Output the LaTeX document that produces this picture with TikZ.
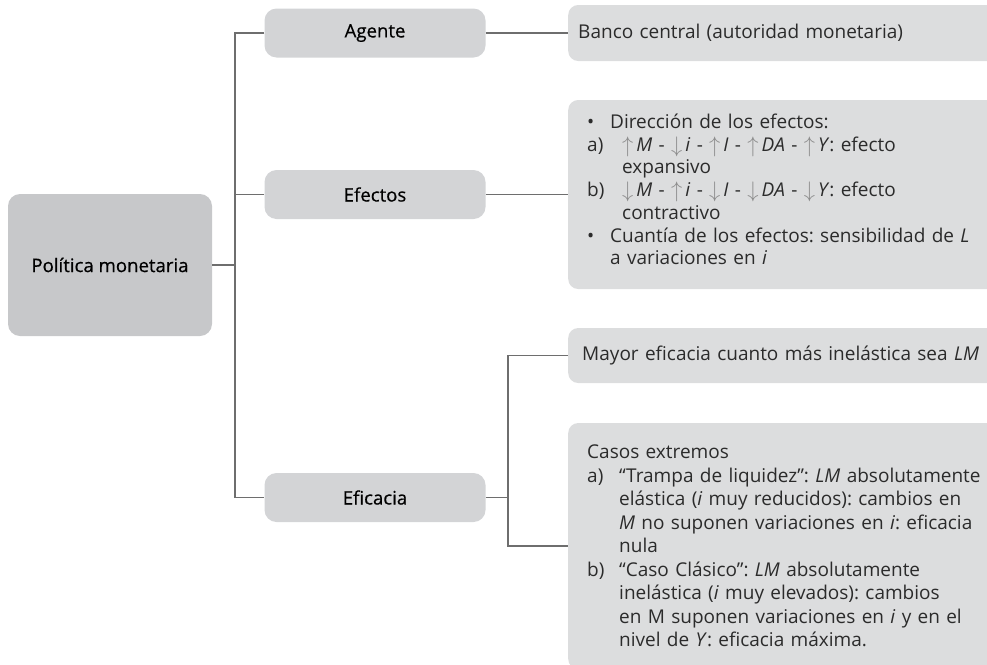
\documentclass[tikz,border=0pt]{standalone}
\usepackage{fontspec}
\setmainfont{Open Sans}
\newfontfamily\labelfont[FakeBold=0.5]{Open Sans}
\definecolor{rootfill}{HTML}{C7C8CA}
\definecolor{midfill}{HTML}{D3D4D6}
\definecolor{leaffill}{HTML}{DCDDDE}
\definecolor{linegray}{HTML}{6E6E6E}
\definecolor{leaftext}{HTML}{2B2B2B}
\definecolor{arrowgray}{HTML}{8C8C8C}

% arrows used in the chains of effects
\newcommand{\ArUp}{{\color{arrowgray}\raisebox{-1pt}[12pt][2pt]{\scalebox{1.3}{$\uparrow$}}}\hspace{3pt}}
\newcommand{\ArDn}{{\color{arrowgray}\raisebox{-1pt}[12pt][2pt]{\scalebox{1.3}{$\downarrow$}}}\hspace{3pt}}
% list labels with hanging text
\newcommand{\BulletLbl}{\makebox[23pt][l]{•}}
\newcommand{\LetterLbl}[1]{\makebox[35pt][l]{#1}}
\newcommand{\CaseLbl}[1]{\makebox[32pt][l]{#1}}

\begin{document}
\frenchspacing
\begin{tikzpicture}[x=1pt,y=-1pt,
  txt/.style={font=\fontsize{19}{22.7}\selectfont\frenchspacing},
  lbl/.style={font=\fontsize{18.6}{22}\selectfont\labelfont},
  rootbox/.style={lbl, fill=rootfill, rounded corners=12pt, minimum width=204pt,
    minimum height=142pt, inner sep=0pt},
  midbox/.style={lbl, fill=midfill, rounded corners=12pt, minimum width=221pt,
    minimum height=49pt, inner sep=0pt},
  leafbox/.style={txt, text=leaftext, fill=leaffill, rounded corners=10pt,
    text width=420pt, align=left, inner xsep=19pt, inner ysep=0pt, anchor=west},
  link/.style={draw=linegray, line width=1.3pt}
]
\useasboundingbox (0,0) rectangle (987,664);
\clip (0,0) rectangle (987,664);

% root and first level
\node[rootbox] (root) at (110,265) {Política monetaria};
\node[midbox] (agente) at (375,33) {Agente};
\node[midbox] (efectos) at (375,194.5) {Efectos};
\node[midbox] (eficacia) at (375,497.5) {Eficacia};

% leaves
\node[leafbox, minimum height=56pt, inner xsep=10pt] (banco) at (568,33) {Banco central (autoridad monetaria)};

\node[leafbox, minimum height=189pt] (dir) at (568,194.5) {%
\BulletLbl Dirección de los efectos:\\
\LetterLbl{a)}\ArUp\textit{M} - \ArDn\textit{i} - \ArUp\textit{I} - \ArUp\textit{DA} - \ArUp\textit{Y}: efecto\\
\hspace*{35pt}expansivo\\
\LetterLbl{b)}\ArDn\textit{M} - \ArUp\textit{i} - \ArDn\textit{I} - \ArDn\textit{DA} - \ArDn\textit{Y}: efecto\\
\hspace*{35pt}contractivo\\
\BulletLbl Cuantía de los efectos: sensibilidad de \textit{L}\\
\hspace*{23pt}a variaciones en \textit{i}\par\vspace*{10pt}};

\node[leafbox, minimum height=55pt, inner xsep=14pt] (mayor) at (568,355.5) {Mayor eficacia cuanto más inelástica sea \textit{LM}};

\node[leafbox, minimum height=246pt, font=\fontsize{19}{23.5}\selectfont] (casos) at (568,546) {%
Casos extremos\\
\CaseLbl{a)}“Trampa de liquidez”: \textit{LM} absolutamente\\
\hspace*{32pt}elástica (\textit{i} muy reducidos): cambios en\\
\hspace*{32pt}\textit{M} no suponen variaciones en \textit{i}: eficacia\\
\hspace*{32pt}nula\\
\CaseLbl{b)}“Caso Clásico”: \textit{LM} absolutamente\\
\hspace*{32pt}inelástica (\textit{i} muy elevados): cambios\\
\hspace*{32pt}en M suponen variaciones en \textit{i} y en el\\
\hspace*{32pt}nivel de \textit{Y}: eficacia máxima.};

% trunk positions
\coordinate (trunkA) at (235,0);
\coordinate (trunkB) at (508,0);

% connectors
\draw[link] (root.east) -- (root.east -| trunkA);
\draw[link] (agente.west) -- (agente.west -| trunkA) -- (eficacia.west -| trunkA) -- (eficacia.west);
\draw[link] (efectos.west) -- (efectos.west -| trunkA);
\draw[link] (agente.east) -- (banco.west);
\draw[link] (efectos.east) -- (dir.west);
\draw[link] (eficacia.east) -- (eficacia.east -| trunkB);
\draw[link] (mayor.west) -- (mayor.west -| trunkB) -- (casos.west -| trunkB) -- (casos.west);
\end{tikzpicture}
\end{document}
